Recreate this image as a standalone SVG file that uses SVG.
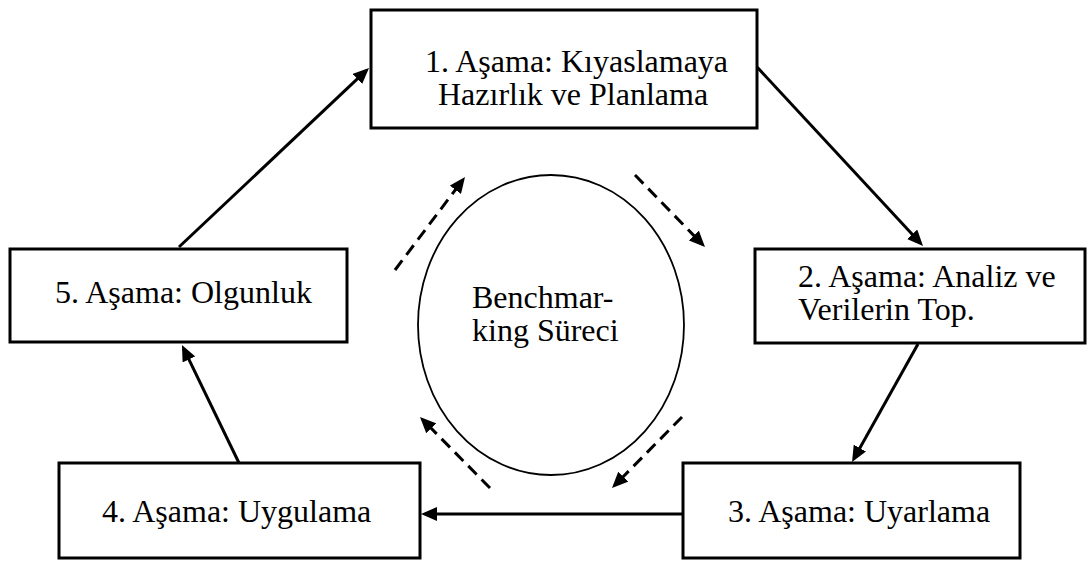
<svg xmlns="http://www.w3.org/2000/svg" width="1088" height="562" viewBox="0 0 1088 562">
  <style>
    .box { fill: #ffffff; stroke: #000000; stroke-width: 3; }
    .lbl { font-family: "Liberation Serif", "Times New Roman", serif; font-size: 32px; fill: #000000; }
    .flow { fill: none; stroke: #000000; stroke-width: 3; marker-end: url(#head); }
    .dash { fill: none; stroke: #000000; stroke-width: 3; stroke-dasharray: 12 7; marker-end: url(#head); }
  </style>
  <defs>
    <marker id="head" markerUnits="userSpaceOnUse" markerWidth="17" markerHeight="14" refX="12" refY="7" orient="auto">
      <path d="M0,0 L16,7 L0,14 z" fill="#000000"/>
    </marker>
  </defs>
  <rect width="1088" height="562" fill="#ffffff"/>

  <!-- stage cycle connectors -->
  <g id="connectors">
    <line class="flow" x1="179" y1="247" x2="366.1" y2="70.7"/>
    <line class="flow" x1="757" y1="67" x2="920.3" y2="243.1"/>
    <line class="flow" x1="918" y1="344" x2="854" y2="458.5"/>
    <line class="flow" x1="683" y1="514" x2="425" y2="514"/>
    <line class="flow" x1="239" y1="463" x2="183.7" y2="348.6"/>
    <!-- dashed loop around the centre -->
    <line class="dash" x1="395" y1="270" x2="462.6" y2="180.2"/>
    <line class="dash" x1="635" y1="175" x2="702.2" y2="244.1"/>
    <line class="dash" x1="682" y1="417" x2="614.8" y2="485.2"/>
    <line class="dash" x1="490" y1="488" x2="422.8" y2="419.8"/>
  </g>

  <g id="stage1">
    <rect class="box" x="371" y="10" width="386" height="118"/>
    <text class="lbl" x="425" y="72">1. Aşama: Kıyaslamaya</text>
    <text class="lbl" x="438" y="105">Hazırlık ve Planlama</text>
  </g>

  <g id="stage2">
    <rect class="box" x="755" y="249" width="330" height="94"/>
    <text class="lbl" x="798" y="287">2. Aşama: Analiz ve</text>
    <text class="lbl" x="798" y="320">Verilerin Top.</text>
  </g>

  <g id="stage3">
    <rect class="box" x="683" y="463" width="337" height="95"/>
    <text class="lbl" x="728" y="522">3. Aşama: Uyarlama</text>
  </g>

  <g id="stage4">
    <rect class="box" x="59" y="463" width="361" height="95"/>
    <text class="lbl" x="102" y="522">4. Aşama: Uygulama</text>
  </g>

  <g id="stage5">
    <rect class="box" x="10" y="249" width="337" height="93"/>
    <text class="lbl" x="55" y="303">5. Aşama: Olgunluk</text>
  </g>

  <g id="centre">
    <ellipse cx="551" cy="325" rx="133" ry="150" fill="none" stroke="#000000" stroke-width="1.8"/>
    <text class="lbl" x="472" y="308">Benchmar-</text>
    <text class="lbl" x="472" y="341">king Süreci</text>
  </g>
</svg>
